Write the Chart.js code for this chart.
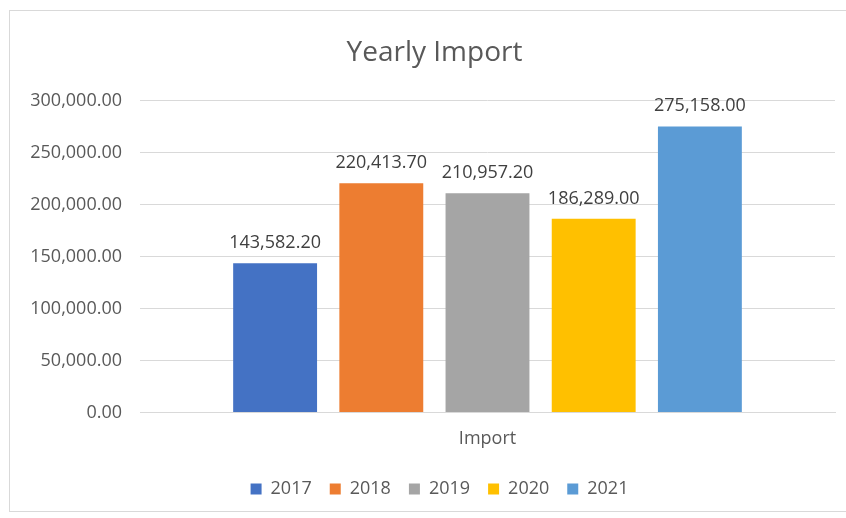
<!DOCTYPE html>
<html>
<head>
<meta charset="utf-8">
<script src="https://cdn.jsdelivr.net/npm/chart.js@4/dist/chart.umd.min.js"></script>
<style>
  html, body { margin: 0; padding: 0; background: #fff; overflow: hidden; }
  #wrap { position: relative; width: 846px; height: 518px; overflow: hidden; }
  #frame {
    position: absolute; left: 9px; top: 10px; width: 862px; height: 502px;
    border: 1px solid #d9d9d9; box-sizing: border-box; pointer-events: none;
  }
</style>
</head>
<body>
<div id="wrap">
  <canvas id="importChart" width="846" height="518"></canvas>
  <div id="frame"></div>
</div>
<script>
// --- DATA ---
const categories = ['Import'];
const years = ['2017', '2018', '2019', '2020', '2021'];
const importValues = [143582.20, 220413.70, 210957.20, 186289.00, 275158.00];
const yearColors = ['#4472C4', '#ED7D31', '#A5A5A5', '#FFC000', '#5B9BD5'];
const yTicks = [0, 50000, 100000, 150000, 200000, 250000, 300000];

const textGray = '#595959';
const gridGray = '#d9d9d9';
const fontFamily = '"Open Sans", "Noto Sans", sans-serif';

function fmt(v) {
    return v.toLocaleString('en-US', { minimumFractionDigits: 2, maximumFractionDigits: 2 });
}

// --- VALUE LABELS ABOVE EACH BAR ---
const barValueLabels = {
    id: 'barValueLabels',
    afterDatasetsDraw(chart) {
        const ctx = chart.ctx;
        ctx.save();
        ctx.font = '18px ' + fontFamily;
        ctx.fillStyle = '#404040';
        ctx.textAlign = 'center';
        ctx.textBaseline = 'alphabetic';
        chart.data.datasets.forEach((ds, i) => {
            const meta = chart.getDatasetMeta(i);
            meta.data.forEach((bar, j) => {
                ctx.fillText(fmt(ds.data[j]), bar.x, bar.y - 15);
            });
        });
        ctx.restore();
    }
};

// the frame is wider than the plot on the right, so title and legend sit a bit right of the plot centre
const nudgeHeaderFooter = {
    id: 'nudgeHeaderFooter',
    afterLayout(chart) {
        if (chart.titleBlock) { chart.titleBlock.left += 7; chart.titleBlock.right += 7; }
        if (chart.legend) { chart.legend.left += 12; chart.legend.right += 12; }
    }
};

const datasets = years.map((year, i) => ({
    label: year,
    data: [importValues[i]],
    backgroundColor: yearColors[i],
    categoryPercentage: 0.764,
    barPercentage: 0.79
}));

new Chart(document.getElementById('importChart'), {
    type: 'bar',
    data: { labels: categories, datasets: datasets },
    plugins: [barValueLabels, nudgeHeaderFooter],
    options: {
        responsive: false,
        animation: false,
        layout: { padding: { left: 20, right: 11, top: 36, bottom: 10 } },
        plugins: {
            title: {
                display: true,
                text: 'Yearly Import',
                color: textGray,
                font: { family: fontFamily, size: 28, weight: 'normal' },
                padding: { top: 0, bottom: 31 }
            },
            legend: {
                position: 'bottom',
                labels: {
                    color: textGray,
                    font: { family: fontFamily, size: 18 },
                    boxWidth: 11,
                    boxHeight: 11,
                    padding: 18
                }
            },
            tooltip: { enabled: false }
        },
        scales: {
            x: {
                afterFit: (scale) => { scale.height += 4; },
                grid: { display: false },
                border: { color: gridGray },
                ticks: { color: textGray, font: { family: fontFamily, size: 18 }, padding: 8 }
            },
            y: {
                min: 0,
                max: 300000,
                afterFit: (scale) => { scale.width = 120; },
                afterBuildTicks: (scale) => { scale.ticks = yTicks.map(v => ({ value: v })); },
                grid: { color: gridGray, drawTicks: false },
                border: { display: false },
                ticks: {
                    color: textGray,
                    font: { family: fontFamily, size: 18 },
                    padding: 18,
                    callback: (v) => fmt(v)
                }
            }
        }
    }
});
</script>
</body>
</html>
